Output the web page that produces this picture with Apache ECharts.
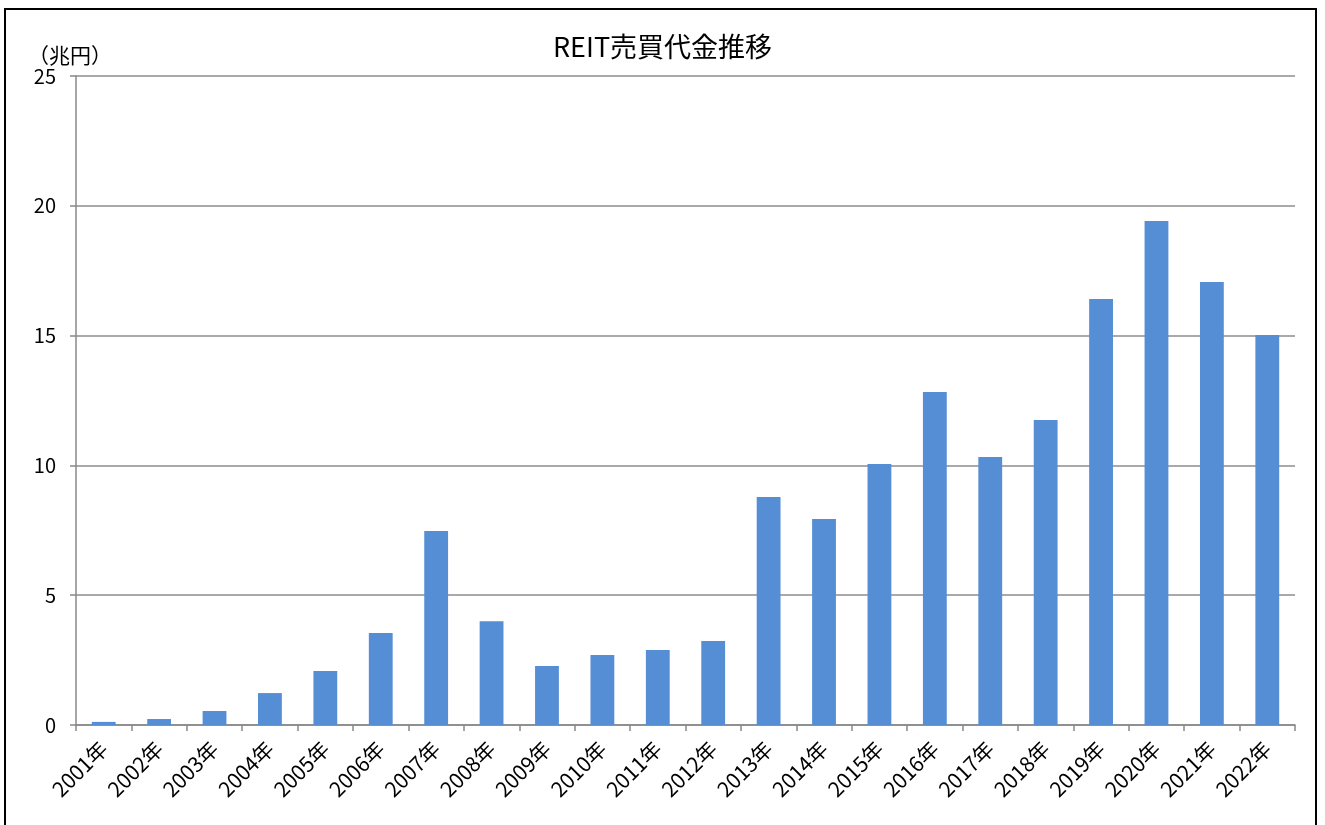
<!DOCTYPE html>
<html><head><meta charset="utf-8">
<script src="https://cdn.jsdelivr.net/npm/echarts@6/dist/echarts.min.js"></script>
<style>
html,body{margin:0;padding:0;background:#fff;}
#frame{position:absolute;left:4px;top:8px;width:1313px;height:830px;border:2px solid #000;box-sizing:border-box;}
#c{position:absolute;left:0;top:0;width:1325px;height:825px;}
</style></head>
<body>
<div id="frame"></div>
<div id="c"></div>
<script>
const categories = ["2001年","2002年","2003年","2004年","2005年","2006年","2007年","2008年","2009年","2010年","2011年","2012年","2013年","2014年","2015年","2016年","2017年","2018年","2019年","2020年","2021年","2022年"];
const values = [0.12,0.23,0.54,1.23,2.08,3.54,7.47,4.0,2.27,2.7,2.89,3.24,8.78,7.94,10.05,12.83,10.32,11.75,16.41,19.41,17.06,15.02];
const yTicks = [0,5,10,15,20,25];
const title = "REIT売買代金推移";
const yName = "（兆円）";

const font = "'Noto Sans CJK JP','Liberation Sans',sans-serif";
const chart = echarts.init(document.getElementById('c'));
chart.setOption({
  animation:false,
  backgroundColor:'transparent',
  title:{text:title,left:'center',top:28,textStyle:{fontFamily:font,fontSize:27,fontWeight:'normal',color:'#000'}},
  graphic:[{type:'text',left:28,top:45,style:{text:yName,fontFamily:font,fontSize:21,fill:'#000'}}],
  grid:{left:76,right:30,top:76,bottom:100,containLabel:false},
  xAxis:{type:'category',data:categories,
    axisLine:{lineStyle:{color:'#888',width:1.5}},
    axisTick:{show:true,length:6,lineStyle:{color:'#888',width:1.5}},
    axisLabel:{rotate:45,fontFamily:font,fontSize:21,color:'#000',margin:20}},
  yAxis:{type:'value',min:yTicks[0],max:yTicks[yTicks.length-1],interval:5,
    axisLine:{show:true,lineStyle:{color:'#888',width:1.5}},
    axisTick:{show:true,length:6,lineStyle:{color:'#888',width:1.5}},
    axisLabel:{fontFamily:font,fontSize:20,color:'#000',margin:20},
    splitLine:{lineStyle:{color:'#8c8c8c',width:1.5}}},
  series:[{type:'bar',data:values,barWidth:'43%',
    itemStyle:{color:'#558ED5'}}]
});
</script>
</body></html>
